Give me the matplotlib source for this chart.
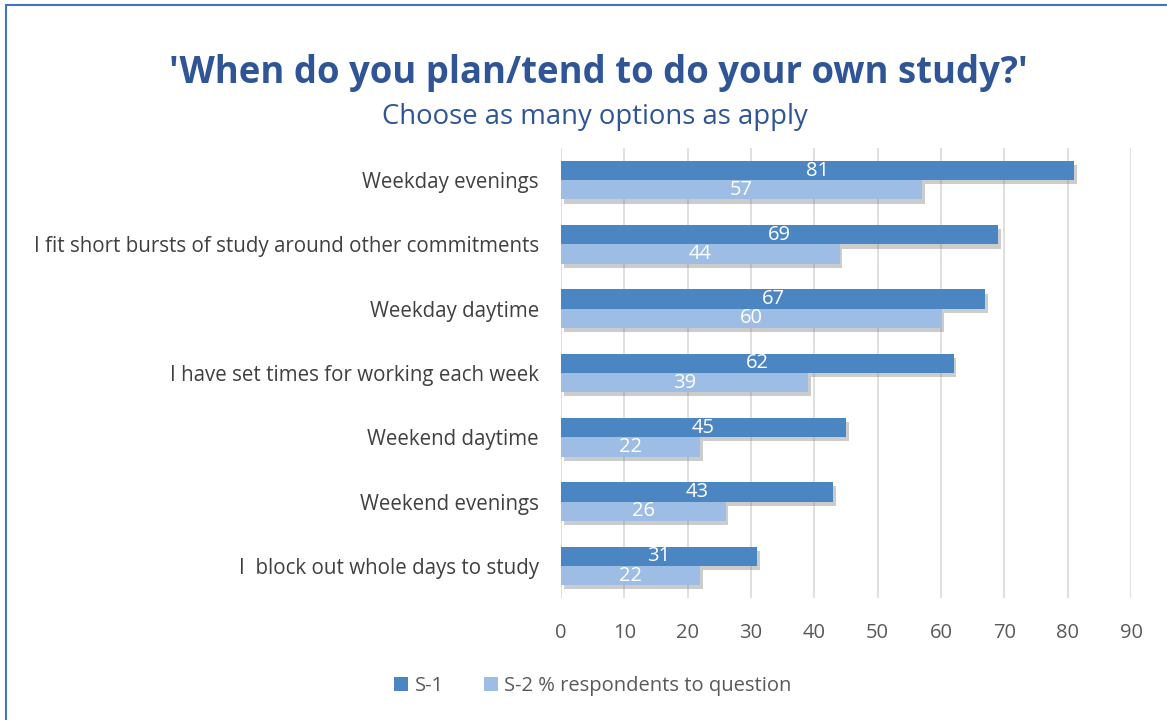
import matplotlib.pyplot as plt
import matplotlib.patheffects as pe
from matplotlib.patches import Rectangle
import numpy as np

plt.rcParams['font.family'] = ['Open Sans', 'DejaVu Sans']

categories = ['Weekday evenings',
              'I fit short bursts of study around other commitments',
              'Weekday daytime',
              'I have set times for working each week',
              'Weekend daytime',
              'Weekend evenings',
              'I  block out whole days to study']
s1 = [81, 69, 67, 62, 45, 43, 31]
s2 = [57, 44, 60, 39, 22, 26, 22]
series_names = ['S-1', 'S-2 % respondents to question']
x_ticks = list(range(0, 100, 10))

dark = '#4c86c2'
light = '#9dbde5'
title_col = '#2f5597'

fig = plt.figure(figsize=(11.67, 7.2), dpi=100)
ax = fig.add_axes([0.4807, 0.1694, 0.4885, 0.625])

y = np.arange(len(categories))
h = 0.3
shadow = [pe.SimplePatchShadow(offset=(2, -3), shadow_rgbFace='#808080', alpha=0.4), pe.Normal()]
b1 = ax.barh(y - h / 2, s1, height=h, color=dark, label=series_names[0], zorder=3)
b2 = ax.barh(y + h / 2, s2, height=h, color=light, label=series_names[1], zorder=3)
for b in list(b1) + list(b2):
    b.set_path_effects(shadow)

for i in range(len(categories)):
    ax.text(s1[i] / 2, y[i] - h / 2, str(s1[i]), color='white', fontsize=14.5,
            ha='center', va='center', zorder=4)
    ax.text(s2[i] / 2, y[i] + h / 2, str(s2[i]), color='white', fontsize=14.5,
            ha='center', va='center', zorder=4)

ax.set_ylim(len(categories) - 0.5, -0.5)
ax.set_xlim(0, 90)
ax.set_xticks(x_ticks)
ax.set_yticks(y)
ax.set_yticklabels(categories, fontsize=14.8, color='#404040')
ax.tick_params(axis='x', labelsize=14.5, labelcolor='#595959', length=0, pad=18)
ax.tick_params(axis='y', length=0, pad=16)
ax.grid(axis='x', color='#d9d9d9', linewidth=1.2, zorder=0)
for s in ax.spines.values():
    s.set_visible(False)

fig.text(0.513, 0.898, "'When do you plan/tend to do your own study?'", fontsize=26.3,
         fontweight='bold', color=title_col, ha='center', va='center')
fig.text(0.510, 0.838, 'Choose as many options as apply', fontsize=19.8,
         color=title_col, ha='center', va='center')

leg = ax.legend(loc='center', bbox_to_anchor=(0.508, 0.047), bbox_transform=fig.transFigure,
                ncol=2, frameon=False, fontsize=14.5, handlelength=0.7, handleheight=0.7,
                handletextpad=0.3, columnspacing=2.0, labelcolor='#595959')
for hnd in leg.legend_handles:
    hnd.set_path_effects([])

fig.patches.append(Rectangle((0.005, -0.01), 1.2, 1.003, transform=fig.transFigure,
                             fill=False, edgecolor='#4472c4', linewidth=1.5))

fig.savefig('out.png', dpi=100)
